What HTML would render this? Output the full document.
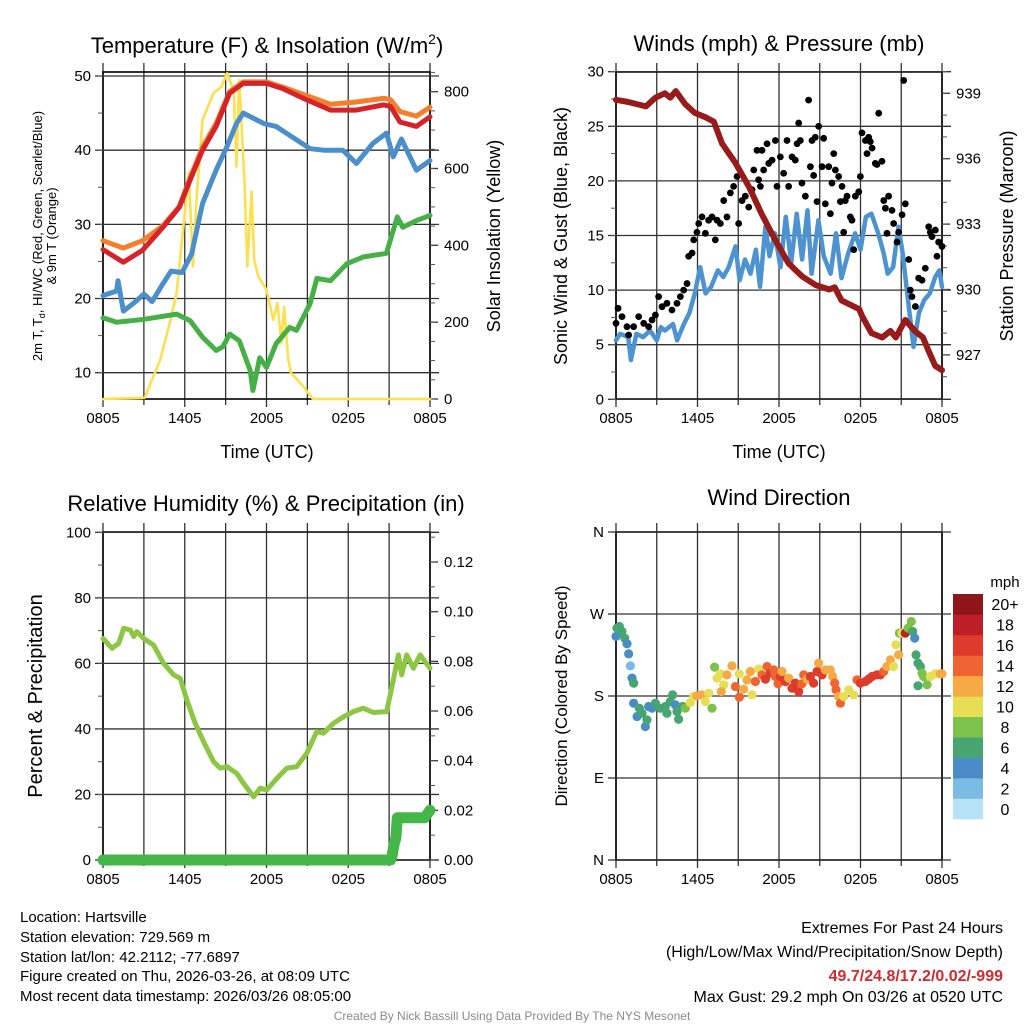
<!DOCTYPE html>
<html><head><meta charset="utf-8">
<style>
html,body{margin:0;padding:0;background:#fff;}
svg{display:block;font-family:"Liberation Sans",Arial,sans-serif;}
</style></head>
<body>
<svg id="chart" width="1024" height="1024" viewBox="0 0 1024 1024" xmlns="http://www.w3.org/2000/svg">
<rect width="1024" height="1024" fill="#fff"/>
<g id="layer"></g>
<g font-size="22" text-anchor="middle" fill="#000">
 <text x="267" y="53">Temperature (F) &amp; Insolation (W/m<tspan font-size="14" dy="-9">2</tspan><tspan dy="9">)</tspan></text>
 <text x="779" y="51">Winds (mph) &amp; Pressure (mb)</text>
 <text x="266" y="511">Relative Humidity (%) &amp; Precipitation (in)</text>
 <text x="779" y="505">Wind Direction</text>
</g>
<g font-size="18" text-anchor="middle">
 <text x="267" y="458">Time (UTC)</text>
 <text x="779" y="458">Time (UTC)</text>
 <text transform="translate(500,236) rotate(-90)">Solar Insolation (Yellow)</text>
 <text transform="translate(567,236) rotate(-90)">Sonic Wind &amp; Gust (Blue, Black)</text>
 <text transform="translate(1013,236) rotate(-90)">Station Pressure (Maroon)</text>
 <text transform="translate(42,696) rotate(-90)" font-size="20">Percent &amp; Precipitation</text>
 <text transform="translate(567,696) rotate(-90)" font-size="17">Direction (Colored By Speed)</text>
 <g transform="translate(42,236) rotate(-90)" font-size="13">
  <text x="0" y="0">2m T, T<tspan font-size="9" dy="3">d</tspan><tspan dy="-3">, HI/WC (Red, Green, Scarlet/Blue)</tspan></text>
  <text x="0" y="14">&amp; 9m T (Orange)</text>
 </g>
</g>
<g font-size="15" fill="#000">
 <text x="20" y="922">Location: Hartsville</text>
 <text x="20" y="942">Station elevation: 729.569 m</text>
 <text x="20" y="962">Station lat/lon: 42.2112; -77.6897</text>
 <text x="20" y="981">Figure created on Thu, 2026-03-26, at 08:09 UTC</text>
 <text x="20" y="1001">Most recent data timestamp: 2026/03/26 08:05:00</text>
</g>
<g font-size="16" text-anchor="end">
 <text x="1003" y="933">Extremes For Past 24 Hours</text>
 <text x="1003" y="957">(High/Low/Max Wind/Precipitation/Snow Depth)</text>
 <text x="1003" y="981" fill="#d12a2f" font-weight="bold">49.7/24.8/17.2/0.02/-999</text>
 <text x="1003" y="1002">Max Gust: 29.2 mph On 03/26 at 0520 UTC</text>
</g>
<text x="512" y="1020" font-size="12" fill="#8a8a8a" text-anchor="middle">Created By Nick Bassill Using Data Provided By The NYS Mesonet</text>
</svg>
<script>
// ---------- data ----------
const xTickLabels = ["0805","1405","2005","0205","0805"];
const tempTicks = [10,20,30,40,50];
const solarTicks = [0,200,400,600,800];
const windTicks = [0,5,10,15,20,25,30];
const pressTicks = [927,930,933,936,939];
const rhTicks = [0,20,40,60,80,100];
const precipTicks = [0,0.02,0.04,0.06,0.08,0.10,0.12];
const precipTickLabels = ["0.00","0.02","0.04","0.06","0.08","0.10","0.12"];
const dirTicks = [0,90,180,270,360];
const dirTickLabels = ["N","E","S","W","N"];
const speedBinLabels = ["0","2","4","6","8","10","12","14","16","18","20+"];
const speedBinColors = ["#b5e2f6","#7cbbe4","#4a8dc6","#47a572","#7cc14a","#e6df55","#f6aa44","#ef6531","#dd3b2c","#bd1e27","#8e1519"];

const redT = [0,1.5,2.9,4.4,5.6,6.4,7.3,8.3,9.3,10.3,12,13.2,14.7,16.7,18.6,20.6,21.1,21.8,23,24];
const redV = [26.6,24.9,26.5,29.6,32.3,36,40,43.2,47.7,49,49,48.3,47,45.4,45.4,46.1,45.9,43.8,43.2,44.5];
const orangeT = [0,1.5,2.9,4.4,5.6,6.4,7.3,8.3,9.3,10.3,12,13.2,14.7,16.7,18.6,20.6,21.1,21.8,23,24];
const orangeV = [27.8,26.8,27.8,29.8,32.4,36.3,40.4,43.6,47.9,49.2,49.2,48.5,47.5,46.2,46.5,47,46.8,45.2,44.6,45.8];
const blueT = [0,1,1.1,1.5,2.2,3,3.6,4.4,5,5.8,6.5,7.3,8.3,9.1,9.8,10.3,11.8,12.7,14.2,15.2,16.2,17.6,18.6,19.8,20.8,21.3,21.9,23,24];
const blueV = [20.4,21,22.4,18.3,19.3,20.6,19.6,22,23.7,23.5,26,32.8,37.3,40.5,43.6,45,43.6,43.2,41.4,40.2,40,40,38.2,40.9,42.3,39.1,41.5,37.3,38.6];
const greenT = [0,1,2,3,4.4,5.4,6.4,7.3,8.3,8.8,9.3,10,10.8,11,11.5,12,12.7,13.7,14.2,15.2,15.7,16.7,17.9,19.1,20.8,21.6,22,23,24];
const greenV = [17.4,16.8,17,17.2,17.6,17.9,17,14.8,13,13.5,15.2,14.3,10.3,7.6,12,10.7,13.9,16.1,15.7,19.3,22.7,22.4,24.7,25.6,26.1,31,29.6,30.5,31.2];
const solarT = [0,3.06,3.8,4.2,4.9,5.4,5.9,6.3,6.6,6.9,7.3,8.1,8.7,9.1,9.6,9.8,10,10.4,10.6,10.9,11.1,11.4,12,12.5,12.8,13.1,13.3,13.6,13.8,14.7,15.4,24];
const solarV = [0,3,68,102,198,275,449,588,345,536,726,796,813,848,804,605,830,553,345,540,362,319,284,206,250,146,240,102,68,33,0,0];

const pressT = [0,0.9,2.2,2.9,3.6,4,4.4,5.1,5.8,6.6,7.2,7.8,8.8,9.8,10.7,11.7,12.7,13.7,14.7,15.7,16.1,16.6,17.9,18.1,18.8,19.6,20.2,20.6,21.3,22,22.6,23,23.5,24];
const pressV = [938.7,938.6,938.4,938.8,939,938.8,939.1,938.5,938.1,937.9,937.7,936.7,935.8,934.7,933.5,932.3,931.2,930.6,930.2,930,930.1,929.5,929.1,928.8,928,927.8,928.1,927.8,928.6,928.1,927.8,927.2,926.5,926.3];
const windT = [0,0.3,0.9,1.1,1.5,2,2.5,3,3.3,3.6,4.2,4.5,5,5.4,5.8,6.2,6.6,7,7.5,7.9,8.3,8.8,9.1,9.5,9.9,10.3,10.6,11,11.3,11.7,12.1,12.5,12.9,13.3,13.7,14.1,14.4,14.9,15.3,15.8,16.2,16.6,17.1,17.6,18,18.4,18.8,19.3,19.7,20,20.4,20.8,21.1,21.5,21.9,22.3,22.7,23.1,23.5,23.8,24];
const windV = [5.4,6,5.7,3.6,6,5.7,6.3,5.4,6.6,6.3,6.9,5.4,6.9,7.9,9.7,12.1,9.7,10.3,11.8,11.2,12.1,14,10.9,12.8,11.5,13.7,10.3,15.8,13.1,15.2,12.1,16.7,12.5,17,12.8,17.3,11.5,16.4,13.1,11.5,15.2,11.1,13.4,15.2,13.7,16.7,17,15.2,13.4,11.5,12.1,15.8,13.4,9.1,4.8,7.9,9.1,9.7,11.2,11.8,10.3];
const gustT = [0,0.15,0.44,0.81,0.93,1.3,1.67,2.04,2.4,2.65,2.9,3.14,3.39,3.75,4.12,4.49,4.74,4.98,5.23,5.35,5.6,5.72,5.96,6.09,6.33,6.58,6.82,7.07,7.31,7.44,7.68,7.93,8.17,8.42,8.66,8.91,9.03,9.28,9.52,9.77,10.01,10.14,10.38,10.5,10.63,10.75,10.87,11.12,11.24,11.49,11.73,11.85,12.1,12.34,12.59,12.71,12.96,13.2,13.33,13.45,13.57,13.69,13.94,14.18,14.31,14.43,14.55,14.67,14.8,14.92,15.17,15.29,15.41,15.66,15.78,15.9,16.03,16.15,16.39,16.52,16.64,16.76,16.88,17.01,17.25,17.37,17.5,17.62,17.87,17.99,18.11,18.36,18.48,18.6,18.72,18.85,19.09,19.21,19.34,19.58,19.71,19.83,19.95,20.07,20.32,20.44,20.69,20.81,21.06,21.18,21.3,21.55,21.67,21.79,22.04,22.28,22.53,22.77,23.02,23.14,23.26,23.51,23.63,23.75,24];
const gustV = [6.96,8.33,7.57,6.65,5.89,6.65,7.57,6.96,6.65,7.26,7.72,9.4,8.48,8.79,8.18,8.79,9.4,10,10.6,13.1,13.4,14.6,15.3,16.1,16.7,15.2,16.4,16.7,14.6,16.4,16.1,18.2,16.7,18.9,19.5,20.4,16.1,18.2,18.6,17.6,19.2,21,22.8,20.1,19.5,22.8,21,23.4,21.6,21.9,23.7,19.5,22.2,20.7,23.7,19.5,22.2,21.9,23.4,25.3,23.7,19.8,18.6,27.4,21.3,23.7,20.5,24,18.1,25,21.3,23.9,17.9,21.3,17,19.8,22.5,21,20.4,18.1,19.5,15.3,18.2,18.6,16.7,16.4,13.7,18.6,19,20.4,24.4,23.7,22.5,24,23.6,23,21.6,21.5,26.2,21.8,18.2,17.5,15.2,18.6,17.3,16.1,14.4,15.3,16.9,29.2,17.9,12.8,10,9.4,8.5,11.1,10.9,12,15.8,15.3,14.9,15.5,13.1,14.4,14];

const rhT = [0,0.66,1.15,1.52,2,2.25,2.49,2.98,3.71,4.45,5.18,5.67,6.16,6.77,7.38,8.12,8.6,9.09,9.83,10.31,11.05,11.54,12.02,12.76,13.49,14.22,14.96,15.69,16.18,16.91,17.65,18.38,19.11,19.85,20.82,21.31,21.68,21.92,22.29,22.78,23.27,24];
const rhV = [67.6,64.6,66.1,70.7,70.2,68.2,69.7,67.6,65.6,60,56.5,55.4,48.8,41.7,36.1,30,28,28.5,26.4,23.4,19.3,21.9,21.4,24.9,28,28.5,32.6,39.2,38.7,41.7,43.7,45.3,46.3,45,45.3,54.9,62.6,56.5,62.6,58.5,62.6,58.5];
const precipT = [0,21.1,21.2,21.35,21.5,21.6,23.6,24];
const precipV = [0,0,0.001,0.006,0.009,0.017,0.017,0.02];

const dirT = [0,0.07,0.25,0.44,0.64,0.81,0.93,1.06,1.18,1.3,1.3,1.55,1.72,1.91,2.16,2.28,2.4,2.65,2.9,3.26,3.63,3.75,4,4.17,4.37,4.49,4.61,4.91,5.1,5.47,5.72,5.96,6.28,6.58,6.82,7.07,7.26,7.44,7.68,7.93,7.75,8.17,8.54,8.79,9.08,9.08,9.4,9.64,9.89,10.01,10.26,10.5,10.75,11,11.12,11.36,11.61,11.73,11.93,12.1,12.22,12.47,12.71,12.96,13.2,13.45,13.69,13.82,14.06,14.31,14.55,14.8,14.92,15.17,15.41,15.78,15.95,16.1,16.2,16.39,16.52,16.76,17.13,17.5,17.74,17.99,18.36,18.6,18.85,19.21,19.46,19.71,19.95,20.2,20.44,20.61,20.81,20.86,21.06,21.3,21.5,21.74,21.84,21.99,22.09,22.23,22.41,22.53,22.65,22.23,22.9,23.14,23.51,23.88,24];
const dirV = [245.4,254.5,256.3,250.8,243.5,237.3,226.3,213.1,199.6,194.1,172.1,157.5,166.6,161.1,146.5,153.8,168.5,166.6,172.1,166.6,168.5,161.1,173.9,181.3,170.3,163,154.5,168.5,166.6,172.8,179.4,180.2,181.3,173.9,183.1,166.6,211.7,199.6,204.3,192.3,184.9,203.2,213.1,190.4,204.3,178.7,187.5,197.7,206.9,181.3,195.9,209.5,203.2,198.5,212.4,205.1,208.7,201.4,193.4,201.4,206.9,195.9,199.6,188.6,194.1,184.9,193.4,203.2,198.5,201.4,194.1,206.9,216.1,203.2,208.7,208.7,201.4,194.1,186.8,179.4,172.1,179.4,186.8,181.3,197.7,194.1,195.9,198.5,201.4,203.2,203.2,206.9,212.4,219.7,212.4,236.2,225.2,249,249,249,254.5,261.8,250.8,243.5,225.2,216.1,212.4,205.1,201.4,191.2,192.3,201.4,204.3,204.3,204.3];
const dirSpeed = [4,6,6,6,6,4,4,2,4,6,4,4,6,6,4,6,4,4,6,6,6,6,6,6,4,6,6,6,8,10,10,12,12,10,10,8,8,10,10,10,12,12,12,14,10,15,12,12,12,10,14,10,15,16,14,16,14,15,14,16,13,16,12,16,16,16,14,14,12,16,16,16,12,16,12,12,12,14,14,12,14,10,10,10,14,16,16,16,16,16,16,14,12,12,10,10,12,8,10,18,8,8,6,4,6,6,6,8,8,6,8,10,10,12,12];

// ---------- helpers ----------
const NS = "http://www.w3.org/2000/svg";
const layer = document.getElementById("layer");
function mk(tag, attrs, parent){
  const e = document.createElementNS(NS, tag);
  for (const k in attrs) e.setAttribute(k, attrs[k]);
  (parent||layer).appendChild(e);
  return e;
}
function txt(x,y,s,anchor,size,parent){
  const t = mk("text",{x:x,y:y,"text-anchor":anchor,"font-size":size,fill:"#000"},parent);
  t.textContent = s;
  return t;
}
function lin(a,b,c,d,w,col,parent){ return mk("line",{x1:a,y1:b,x2:c,y2:d,stroke:col,"stroke-width":w},parent); }

function makePanel(x0,x1,y0,y1,name){
  const g = mk("g",{});
  
  
  const xs = t => x0 + t/24*(x1-x0);
  // vertical grid every 3 h
  for (let h=0; h<=24; h+=3){
    const x = xs(h);
    const gl = lin(x,y0-9,x,y1+(h%6===0?8:6),1.3,"#333",g);
    
    
  }
  xTickLabels.forEach((s,i)=>{
    const t = txt(xs(i*6), y1+24, s, "middle", 15, g);
    
    
  });
  const fr = mk("rect",{x:x0,y:y0,width:x1-x0,height:y1-y0,fill:"none",stroke:"#000","stroke-width":1.6},g);
  
  
  return {g, xs};
}
function yAxis(p, ticks, labels, yf, side, x0, x1, grid, minorStep, lo, hi, name){
  const ag = mk("g",{},p.g);
  
  
  ticks.forEach((v,i)=>{
    const y = yf(v);
    if (side==="left"){
      lin(x0-8,y,x0,y,1.3,"#333",ag);
      if (grid) lin(x0,y,x1+9,y,1.3,"#333",ag);
      const t = txt(x0-12, y+5, labels[i], "end", 15, ag);
      
      
    } else {
      lin(x1,y,x1+8,y,1.3,"#333",ag);
      const t = txt(x1+14, y+5, labels[i], "start", 15, ag);
      
      
    }
  });
  if (minorStep){
    for (let v=lo; v<=hi+1e-9; v+=minorStep){
      const y = yf(v);
      if (side==="left") lin(x0-5,y,x0,y,1,"#555",ag);
      else lin(x1,y,x1+5,y,1,"#555",ag);
    }
  }
}
function pathFrom(ts, vs, xs, yf){
  return ts.map((t,i)=>(i?"L":"M")+xs(t).toFixed(1)+" "+yf(vs[i]).toFixed(1)).join(" ");
}
function series(p, ts, vs, yf, col, w, name){
  const e = mk("path",{d:pathFrom(ts,vs,p.xs,yf),fill:"none",stroke:col,"stroke-width":w,"stroke-linejoin":"round","stroke-linecap":"round"},p.g);
  
  
  return e;
}

// ---------- panel 1: temperature ----------
const p1 = makePanel(103,430,72,399,"temperature-panel");
const tY = v => 76 + (50-v)*7.417;
const sY = w => 399 - w*0.3842;
yAxis(p1, tempTicks, tempTicks.map(String), tY, "left", 103, 430, true, 5, 10, 50, "temperature-y-axis");
yAxis(p1, solarTicks, solarTicks.map(String), sY, "right", 103, 430, false, 50, 0, 850, "solar-y-axis");
series(p1, solarT, solarV, sY, "#fde04f", 2.6, "solar-insolation-line");
series(p1, greenT, greenV, tY, "#46b046", 5, "dewpoint-line");
series(p1, blueT, blueV, tY, "#4a8fc9", 5, "wind-chill-line");
series(p1, orangeT, orangeV, tY, "#f47f2b", 5, "temp-9m-line");
series(p1, redT, redV, tY, "#d4232a", 5, "temp-2m-line");

// ---------- panel 2: winds ----------
const p2 = makePanel(616,942,72,399,"winds-panel");
const wY = v => 399.3 - v*10.92;
const pY = v => 93.3 + (939-v)*21.8;
yAxis(p2, windTicks, windTicks.map(String), wY, "left", 616, 942, true, 2.5, 0, 30, "wind-y-axis");
yAxis(p2, pressTicks, pressTicks.map(String), pY, "right", 616, 942, false, 1, 926, 940, "pressure-y-axis");
series(p2, windT, windV, wY, "#4d93cf", 4.5, "sonic-wind-line");
gustT.forEach((t,i)=>{
  const c = mk("circle",{cx:p2.xs(t),cy:wY(gustV[i]),r:3.4,fill:"#000"},p2.g);
  
  
});
series(p2, pressT, pressV, pY, "#981b1b", 6, "pressure-line");

// ---------- panel 3: humidity ----------
const p3 = makePanel(103,430,532,860,"humidity-panel");
const hY = v => 860 - v*3.277;
const prY = v => 860 - v*2483;
yAxis(p3, rhTicks, rhTicks.map(String), hY, "left", 103, 430, true, 10, 0, 100, "humidity-y-axis");
yAxis(p3, precipTicks, precipTickLabels, prY, "right", 103, 430, false, 0.01, 0, 0.13, "precip-y-axis");
series(p3, rhT, rhV, hY, "#8cc643", 5, "humidity-line");
series(p3, precipT, precipV, prY, "#45b649", 11, "precipitation-line");

// ---------- panel 4: wind direction ----------
const p4 = makePanel(616,942,532,860,"wind-direction-panel");
const dY = v => 860 - v*0.9111;
yAxis(p4, dirTicks, dirTickLabels, dY, "left", 616, 942, true, 0, 0, 0, "direction-y-axis");
dirT.forEach((t,i)=>{
  const b = Math.min(10, Math.floor(dirSpeed[i]/2));
  const c = mk("circle",{cx:p4.xs(t),cy:dY(dirV[i]),r:4.6,fill:speedBinColors[b]},p4.g);
  
  
});

// colorbar
const cb = mk("g",{});


const cbTop = 594, cbH = 225/11;
speedBinLabels.forEach((s,i)=>{
  const k = 10 - i;
  const r = mk("rect",{x:953,y:cbTop + k*cbH,width:30,height:cbH+0.3,fill:speedBinColors[i]},cb);
  
  
  const t = txt(1005, cbTop + k*cbH + cbH/2 + 6, s, "middle", 16, cb);
  
  
});
const mph = txt(1005, 587, "mph", "middle", 15, cb);


</script>
</body></html>
